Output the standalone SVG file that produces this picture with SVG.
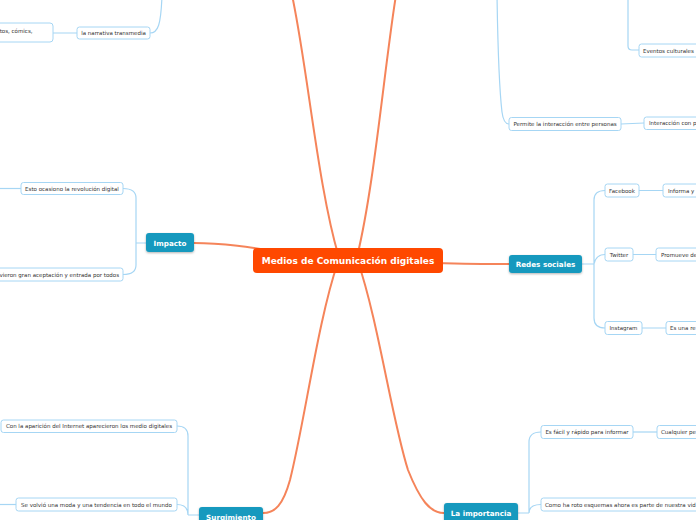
<svg xmlns="http://www.w3.org/2000/svg" width="696" height="520" viewBox="0 0 696 520">
<style>
.main{stroke:#f5845a;stroke-width:2;fill:none;stroke-linecap:round}
.sub{stroke:#a6d6f4;stroke-width:1.2;fill:none}
.box{fill:#fff;stroke:#a6d6f4;stroke-width:1}
.t{font-family:"DejaVu Sans",Verdana,sans-serif;font-size:5.5px;fill:#333}
.c{text-anchor:middle}
.topic{fill:#1799be;filter:url(#sh)}
.tt{font-family:"DejaVu Sans",Verdana,sans-serif;font-size:7.2px;font-weight:bold;fill:#fff;text-anchor:middle}
</style>
<defs>
<filter id="sh" x="-20%" y="-30%" width="140%" height="170%">
<feDropShadow dx="0" dy="1" stdDeviation="0.8" flood-color="#000" flood-opacity="0.3"/>
</filter>
</defs>
<rect width="696" height="520" fill="#fff"/>
<g id="connectors">
<path class="main" d="M194,243 C240,243 285,254 348,261"/>
<path class="main" d="M340,261 C318,190 308,70 292,-5"/>
<path class="main" d="M356,261 C374,190 384,70 396,-5"/>
<path class="main" d="M338,262 C318,320 305,420 290,480 C283,505 275,513 263,513"/>
<path class="main" d="M358,262 C378,320 392,420 408,470 C420,500 430,513 444,513"/>
<path class="main" d="M348,262 C420,262 460,264 509,264"/>
<path class="sub" d="M146,243 L136,243 M136,243 L136,198 Q136,188.5 123,188.5 M136,243 L136,265 Q136,274.5 123,274.5"/>
<path class="sub" d="M21,188.5 L-5,188.5"/>
<path class="sub" d="M77,33 L53,33 M150,33 C158,33 161,25 162,-5"/>
<path class="sub" d="M497,-5 C498,60 500,95 502,112 C503,120 505,124 509,124"/>
<path class="sub" d="M621,124 L644,123"/>
<path class="sub" d="M628,-5 L628,46 Q628,50 632,50 L639,50"/>
<path class="sub" d="M582,264 L594,264 M594,264 L594,200 Q594,190.5 605,190.5 M594,264 L594,318 Q594,328 605,328 M594,264 Q596,254.5 605,254.5"/>
<path class="sub" d="M639,190.5 L663,190.5 M633,254.5 L656,254.5 M642,328 L666,328"/>
<path class="sub" d="M199,515 L188,515 M188,515 L188,436 Q188,426 177,426 M188,515 Q188,504.5 177,504.5"/>
<path class="sub" d="M16,504.5 L-5,504.5"/>
<path class="sub" d="M518,513 L529,513 M529,513 L529,442 Q529,432 541,432 M529,513 Q529,504.5 541,504.5"/>
<path class="sub" d="M633,432 L657,432"/>
</g>
<g id="central">
<rect x="253" y="248" width="190" height="25" rx="4" fill="#ff4800"/>
<text x="348" y="264" font-family="DejaVu Sans,Verdana,sans-serif" font-size="9" font-weight="bold" fill="#fff" text-anchor="middle">Medios de Comunicación digitales</text>
</g>
<g id="impacto">
<rect class="topic" x="146" y="233" width="48" height="19" rx="3"/>
<text class="tt" x="170" y="245.5">Impacto</text>
</g>
<g id="redes">
<rect class="topic" x="509" y="255" width="73" height="18" rx="3"/>
<text class="tt" x="545.5" y="267">Redes sociales</text>
</g>
<g id="surgimiento">
<rect class="topic" x="199" y="507" width="64" height="20" rx="3"/>
<text class="tt" x="231" y="519.5">Surgimiento</text>
</g>
<g id="importancia">
<rect class="topic" x="444" y="503" width="74" height="20" rx="3"/>
<text class="tt" x="481" y="516">La importancia</text>
</g>
<g id="n-esto">
<rect class="box" x="21" y="182.5" width="102" height="12" rx="2.5"/>
<text class="t c" x="72" y="190.5">Esto ocasiono la revolución digital</text>
</g>
<g id="n-vieron">
<rect class="box" x="-10" y="268" width="133" height="13" rx="2.5"/>
<text class="t" x="119" y="276.5" text-anchor="end">vieron gran aceptación y entrada por todos</text>
</g>
<g id="n-comics">
<rect class="box" x="-10" y="23" width="63" height="19" rx="3"/>
<text class="t" x="32.5" y="33" text-anchor="end">tos, cómics,</text>
</g>
<g id="n-narrativa">
<rect class="box" x="77" y="27" width="73" height="12" rx="2.5"/>
<text class="t c" x="113.5" y="35">la narrativa transmedia</text>
</g>
<g id="n-permite">
<rect class="box" x="509" y="117.5" width="112" height="13" rx="2.5"/>
<text class="t c" x="565" y="126">Permite la interacción entre personas</text>
</g>
<g id="n-interaccion">
<rect class="box" x="644" y="117" width="60" height="12.5" rx="2.5"/>
<text class="t" x="649" y="125.3">Interacción con p</text>
</g>
<g id="n-eventos">
<rect class="box" x="639" y="44" width="62" height="13" rx="2.5"/>
<text class="t" x="643" y="52.5">Eventos culturales</text>
</g>
<g id="n-facebook">
<rect class="box" x="605" y="184" width="34" height="13" rx="2.5"/>
<text class="t c" x="622" y="192.5">Facebook</text>
</g>
<g id="n-informa">
<rect class="box" x="663" y="184" width="40" height="13" rx="2.5"/>
<text class="t" x="668" y="192.5">Informa y</text>
</g>
<g id="n-twitter">
<rect class="box" x="605" y="248" width="28" height="13" rx="2.5"/>
<text class="t c" x="619" y="256.5">Twitter</text>
</g>
<g id="n-promueve">
<rect class="box" x="656" y="248" width="47" height="13" rx="2.5"/>
<text class="t" x="661" y="256.5">Promueve de</text>
</g>
<g id="n-instagram">
<rect class="box" x="605" y="321.5" width="37" height="13" rx="2.5"/>
<text class="t c" x="623.5" y="330">Instagram</text>
</g>
<g id="n-esuna">
<rect class="box" x="666" y="321.5" width="37" height="13" rx="2.5"/>
<text class="t" x="670" y="330">Es una re</text>
</g>
<g id="n-con">
<rect class="box" x="1" y="420" width="176" height="12.5" rx="2.5"/>
<text class="t c" x="89" y="428.2">Con la aparición del Internet aparecieron los medio digitales</text>
</g>
<g id="n-se">
<rect class="box" x="16" y="498" width="161" height="13" rx="2.5"/>
<text class="t c" x="96.5" y="506.5">Se volvió una moda y una tendencia en todo el mundo</text>
</g>
<g id="n-facil">
<rect class="box" x="541" y="425.5" width="92" height="13" rx="2.5"/>
<text class="t c" x="587" y="434">Es fácil y rápido para informar</text>
</g>
<g id="n-cualquier">
<rect class="box" x="657" y="425.5" width="46" height="13" rx="2.5"/>
<text class="t" x="661" y="434">Cualquier pe</text>
</g>
<g id="n-como">
<rect class="box" x="541" y="498" width="160" height="13" rx="2.5"/>
<text class="t" x="545" y="506.5">Como ha roto esquemas ahora es parte de nuestra vid</text>
</g>
</svg>
